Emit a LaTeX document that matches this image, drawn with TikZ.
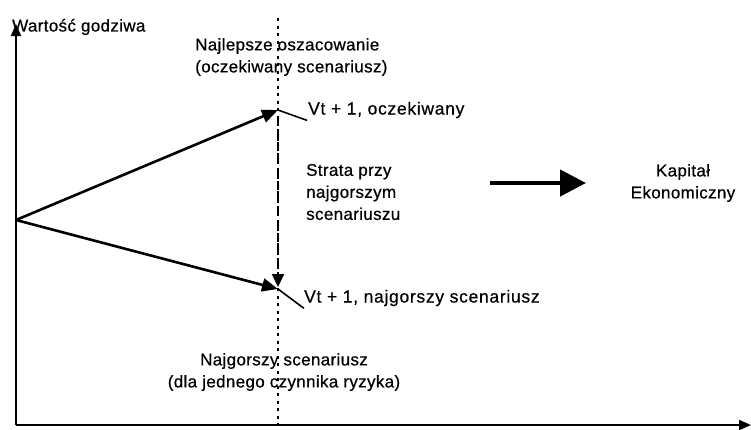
\documentclass[tikz,border=0pt]{standalone}
\usepackage{fontspec}
\setmainfont[FakeBold=0.6,LetterSpace=2]{Liberation Sans}
\newfontfamily\tagfont[FakeBold=0.6,LetterSpace=4]{Liberation Sans}
\usetikzlibrary{arrows.meta}
\begin{document}
\begin{tikzpicture}[x=1pt,y=-1pt,
  lbl/.style={inner sep=0pt,font=\fontsize{17}{22}\selectfont,align=center},
  lbll/.style={lbl,anchor=west,align=left},
  tag/.style={inner sep=0pt,anchor=west,font=\tagfont\fontsize{17.5}{22}\selectfont},
  axis/.style={line width=1.8pt,-{Triangle[length=12pt,width=10pt]}},
  vline/.style={line width=2.6pt,-{Triangle[length=16pt,width=13pt]}},
  guide/.style={line width=1.8pt,dash pattern=on 3pt off 4.5pt},
  loss/.style={line width=2.2pt,dash pattern=on 9pt off 4pt,-{Triangle[length=13pt,width=12pt]}},
  leader/.style={line width=1.6pt},
  bigarrow/.style={line width=4.5pt,-{Triangle[length=26pt,width=26pt]}}]
\useasboundingbox (0,0) rectangle (751,429);

% axes
\coordinate (O) at (16,425);
\coordinate (ytop) at (16,24);
\coordinate (xend) at (751,425);
\draw[axis] (O) -- (ytop);
\draw[axis] (O) -- (xend);
\node[lbll] (yl) at (12,27) {Wartość godziwa};

% value today and the two outcomes
\coordinate (V0) at (16,220);
\coordinate (Vexp) at (278,110);
\coordinate (Vworst) at (278,289);
\coordinate (gtop) at (278,18);
\coordinate (gbot) at (278,429);
\draw[guide] (gtop) -- (gbot);
\draw[vline] (V0) -- (Vexp);
\draw[vline] (V0) -- (Vworst);
\coordinate (lossA) at (278,116);
\coordinate (lossB) at (278,287);
\draw[loss] (lossA) -- (lossB);

% outcome labels with leaders
\node[tag] (lexp) at (308,110) {Vt + 1, oczekiwany};
\node[tag] (lworst) at (304,298) {Vt + 1, najgorszy scenariusz};
\draw[leader] (Vexp) -- ([xshift=-1pt,yshift=-2pt]lexp.south west);
\draw[leader] (Vworst) -- ([yshift=-2pt]lworst.south west);

% scenario captions
\node[lbll] (best) at (195,57) {Najlepsze oszacowanie\\(oczekiwany scenariusz)};
\node[lbl] (worst) at (284,372) {Najgorszy scenariusz\\(dla jednego czynnika ryzyka)};
\node[lbll] (loss) at (306,192) {Strata przy\\najgorszym\\scenariuszu};

% economic capital
\node[lbl] (cap) at (683,183) {Kapitał\\Ekonomiczny};
\coordinate (bA) at (490,183);
\coordinate (bB) at (586,183);
\draw[bigarrow] (bA) -- (bB);
\end{tikzpicture}
\end{document}
